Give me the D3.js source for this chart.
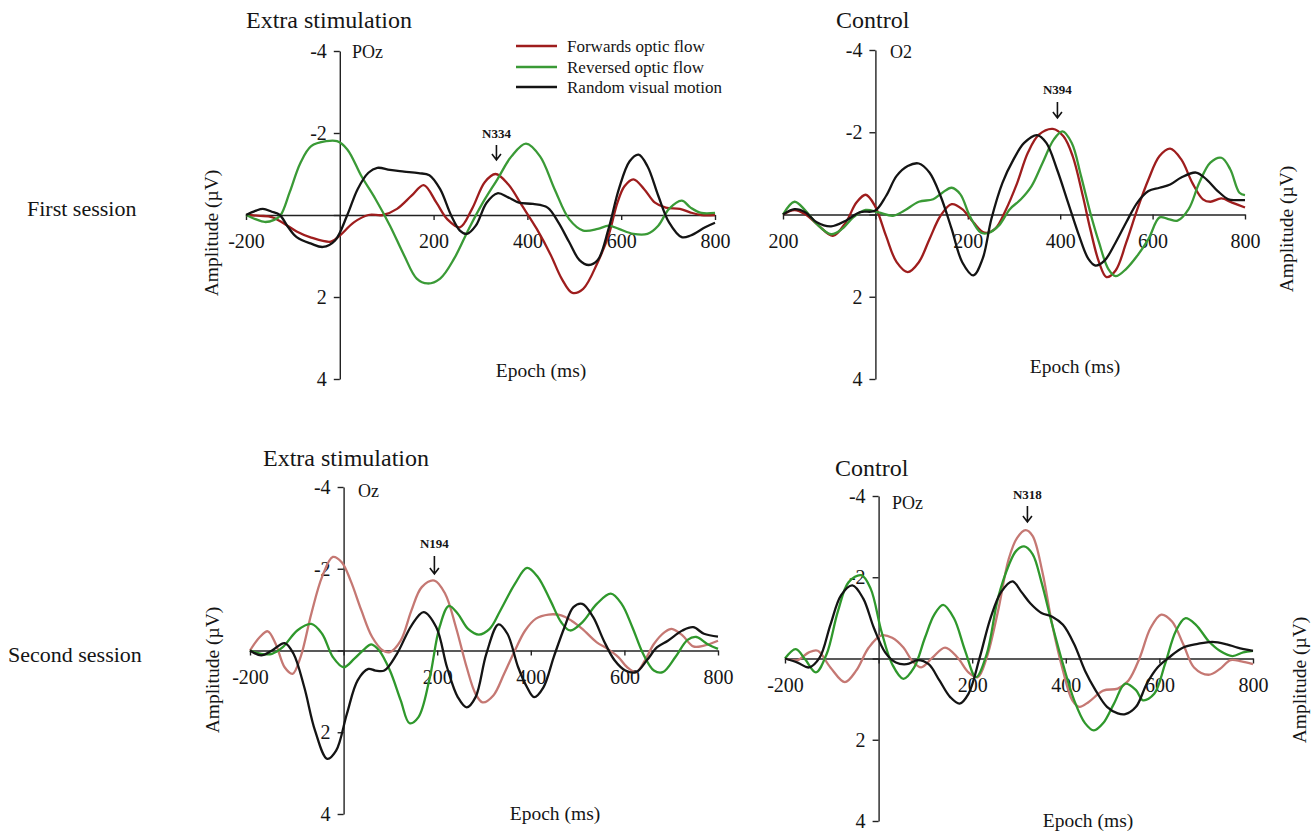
<!DOCTYPE html>
<html>
<head>
<meta charset="utf-8">
<script src="https://cdn.jsdelivr.net/npm/d3@7"></script>
<style>
  body { margin: 0; background: #fff; }
  svg { display: block; }
  text { font-family: "Liberation Serif", Tinos, "Times New Roman", Times, "DejaVu Serif", serif; fill: #151515; }
</style>
</head>
<body>
<svg id="chart" width="1311" height="834"></svg>
<script>
// ---------- data ----------
const seriesNames = ["Forwards optic flow", "Reversed optic flow", "Random visual motion"];
const xTicks = [-200, 0, 200, 400, 600, 800];
const yTicks = [-4, -2, 0, 2, 4];
const xTickLabels = ["-200", "", "200", "400", "600", "800"];
const xTickLabelsO2 = ["200", "", "200", "400", "600", "800"];
const yTickLabels = ["-4", "-2", "", "2", "4"];
const sessionLabels = ["First session", "Second session"];
const conditionTitles = ["Extra stimulation", "Control", "Extra stimulation", "Control"];
const channels = ["POz", "O2", "Oz", "POz"];
const peakLabels = ["N334", "N394", "N194", "N318"];
const peakLatencies = [334, 394, 194, 318];

// First session, extra stimulation, POz  ([ms, µV])
const s1ExtraForward = [[-200,0],[-170,0.02],[-145,0.05],[-120,0.2],[-92,0.4],[-61,0.55],[-19,0.65],[0,0.5],[30,0.18],[61,0.0],[92,0.0],[122,-0.15],[153,-0.47],[179,-0.73],[206,-0.3],[229,0.1],[256,0.3],[282,-0.15],[309,-0.8],[332,-1.0],[359,-0.75],[389,-0.22],[420,0.34],[450,0.98],[473,1.55],[496,1.9],[519,1.8],[550,1.15],[573,0.5],[592,-0.3],[607,-0.7],[626,-0.87],[649,-0.63],[672,-0.3],[695,-0.18],[725,-0.15],[748,-0.06],[771,0.0],[800,0.0]];
const s1ExtraReversed = [[-200,0],[-180,0.1],[-160,0.17],[-140,0.12],[-126,0.0],[-107,-0.55],[-84,-1.27],[-61,-1.68],[-29,-1.8],[-6,-1.8],[16,-1.6],[46,-0.95],[76,-0.39],[107,0.26],[137,0.98],[164,1.55],[187,1.67],[214,1.55],[244,1.06],[275,0.34],[305,-0.3],[336,-0.87],[366,-1.43],[397,-1.74],[427,-1.43],[458,-0.63],[489,0.1],[519,0.38],[550,0.34],[573,0.26],[595,0.34],[626,0.46],[656,0.46],[679,0.26],[702,-0.15],[729,-0.35],[748,-0.18],[771,-0.05],[800,-0.05]];
const s1ExtraRandom = [[-200,0],[-180,-0.1],[-164,-0.15],[-145,-0.08],[-128,0.0],[-110,0.3],[-92,0.54],[-61,0.7],[-36,0.78],[-10,0.62],[16,0.0],[38,-0.63],[61,-1.03],[80,-1.15],[107,-1.1],[137,-1.06],[168,-1.02],[191,-0.97],[214,-0.63],[237,0.0],[256,0.38],[271,0.46],[290,0.26],[313,-0.3],[336,-0.53],[359,-0.43],[382,-0.3],[412,-0.27],[443,-0.18],[466,0.18],[489,0.66],[511,1.1],[531,1.22],[550,1.1],[573,0.34],[595,-0.63],[618,-1.31],[637,-1.47],[656,-1.19],[679,-0.47],[702,0.18],[729,0.54],[748,0.5],[779,0.3],[800,0.19]];

// First session, control, O2
const s1ControlForward = [[-200,0],[-175,-0.11],[-151,0.0],[-123,0.27],[-92,0.52],[-64,0.19],[-41,-0.29],[-21,-0.48],[-1,-0.21],[23,0.52],[46,1.16],[70,1.4],[94,1.16],[117,0.6],[141,0.03],[165,-0.25],[188,-0.13],[212,0.19],[236,0.44],[259,0.35],[283,-0.13],[307,-0.77],[330,-1.5],[354,-1.94],[384,-2.08],[407,-1.9],[427,-1.42],[449,-0.45],[465,0.35],[484,1.16],[500,1.52],[520,1.36],[543,0.68],[567,-0.13],[591,-0.85],[615,-1.42],[638,-1.6],[662,-1.34],[686,-0.77],[709,-0.37],[725,-0.31],[749,-0.39],[772,-0.29],[800,-0.17]];
const s1ControlReversed = [[-200,0],[-175,-0.31],[-151,-0.09],[-127,0.23],[-96,0.48],[-72,0.35],[-48,0.07],[-21,-0.11],[7,-0.05],[38,0.03],[62,-0.09],[94,-0.31],[125,-0.37],[145,-0.53],[165,-0.65],[184,-0.49],[204,0.03],[228,0.44],[244,0.45],[267,0.27],[291,-0.13],[315,-0.37],[338,-0.69],[362,-1.26],[386,-1.82],[405,-2.02],[425,-1.74],[445,-0.94],[465,-0.05],[484,0.68],[504,1.32],[520,1.5],[543,1.32],[567,1.0],[591,0.6],[615,0.07],[634,0.11],[654,0.15],[678,-0.13],[701,-0.77],[725,-1.26],[749,-1.38],[768,-1.1],[788,-0.53],[800,-0.47]];
const s1ControlRandom = [[-200,0],[-175,-0.13],[-151,-0.05],[-127,0.19],[-96,0.29],[-64,0.15],[-33,-0.06],[-1,-0.09],[23,-0.45],[46,-0.94],[70,-1.18],[94,-1.24],[117,-1.02],[141,-0.45],[165,0.35],[188,1.16],[212,1.48],[232,1.08],[251,0.11],[275,-0.77],[299,-1.34],[322,-1.74],[350,-1.93],[370,-1.74],[393,-1.1],[417,-0.29],[441,0.52],[461,1.08],[476,1.24],[496,1.12],[520,0.68],[543,0.19],[567,-0.29],[591,-0.57],[615,-0.65],[638,-0.73],[662,-0.9],[694,-1.02],[717,-0.85],[741,-0.57],[764,-0.37],[780,-0.35],[800,-0.35]];

// Second session, extra stimulation, Oz
const s2ExtraForward = [[-200,0],[-179,-0.33],[-162,-0.47],[-145,-0.16],[-126,0.41],[-109,0.57],[-92,0.16],[-69,-0.9],[-46,-1.8],[-23,-2.29],[-4,-2.16],[15,-1.71],[38,-0.98],[61,-0.33],[84,0.0],[99,0.04],[122,-0.24],[145,-0.98],[167,-1.55],[194,-1.71],[217,-1.39],[240,-0.57],[263,0.41],[282,1.06],[297,1.27],[320,1.1],[343,0.57],[366,0.0],[388,-0.49],[411,-0.78],[438,-0.88],[465,-0.86],[487,-0.73],[510,-0.53],[541,-0.2],[564,-0.04],[587,0.16],[606,0.41],[625,0.53],[644,0.24],[663,-0.16],[686,-0.45],[701,-0.53],[724,-0.37],[747,-0.1],[770,-0.12],[800,-0.24]];
const s2ExtraReversed = [[-200,0],[-176,0.08],[-153,0.08],[-130,-0.08],[-99,-0.49],[-69,-0.65],[-46,-0.41],[-23,0.16],[0,0.41],[23,0.2],[45,-0.04],[59,-0.15],[76,0.0],[99,0.49],[122,1.22],[141,1.78],[160,1.63],[183,0.73],[205,-0.57],[225,-1.09],[244,-0.9],[266,-0.53],[289,-0.39],[312,-0.53],[335,-0.98],[366,-1.63],[392,-2.02],[415,-1.8],[442,-1.22],[465,-0.69],[484,-0.49],[510,-0.69],[541,-1.14],[571,-1.39],[594,-1.14],[617,-0.57],[640,0.08],[663,0.49],[682,0.53],[709,0.16],[735,-0.26],[754,-0.33],[777,-0.16],[800,-0.04]];
const s2ExtraRandom = [[-200,0],[-176,0.12],[-153,0.0],[-126,-0.18],[-107,0.08],[-84,0.9],[-61,1.96],[-35,2.65],[-16,2.45],[7,1.55],[30,0.73],[53,0.45],[68,0.49],[87,0.49],[114,0.08],[145,-0.61],[171,-0.94],[198,-0.57],[221,0.41],[244,1.14],[263,1.39],[282,1.14],[305,0.08],[331,-0.64],[350,-0.41],[373,0.41],[392,0.9],[407,1.14],[427,0.9],[449,0.16],[472,-0.57],[491,-1.06],[510,-1.14],[533,-0.82],[556,-0.24],[579,0.24],[602,0.49],[625,0.53],[648,0.24],[670,-0.08],[693,-0.24],[724,-0.49],[747,-0.57],[770,-0.41],[800,-0.34]];

// Second session, control, POz
const s2ControlForward = [[-200,0],[-173,0.04],[-149,-0.15],[-130,-0.19],[-103,0.22],[-72,0.58],[-48,0.3],[-21,-0.27],[6,-0.57],[29,-0.51],[53,-0.27],[72,0.06],[91,0.22],[115,-0.02],[142,-0.27],[169,-0.02],[192,0.34],[212,0.46],[231,-0.02],[255,-1.16],[278,-2.45],[296,-2.97],[314,-3.16],[329,-3.02],[350,-2.13],[371,-0.83],[394,0.3],[414,1.03],[429,1.19],[449,1.07],[480,0.79],[511,0.74],[534,0.54],[558,-0.02],[581,-0.75],[604,-1.08],[627,-0.91],[651,-0.35],[674,0.22],[705,0.4],[729,0.26],[752,0.04],[775,0.07],[800,0.14]];
const s2ControlReversed = [[-200,0],[-177,-0.23],[-157,0.02],[-134,0.34],[-111,-0.11],[-87,-1.16],[-64,-1.88],[-37,-2.05],[-17,-1.72],[6,-0.67],[29,0.14],[53,0.5],[76,0.22],[99,-0.51],[119,-1.08],[138,-1.32],[161,-0.99],[185,-0.19],[208,0.46],[231,-0.11],[255,-1.48],[278,-2.29],[294,-2.65],[311,-2.76],[329,-2.57],[348,-1.88],[371,-0.83],[394,0.14],[418,1.03],[441,1.59],[460,1.77],[480,1.59],[503,1.11],[527,0.62],[550,0.78],[565,1.03],[589,0.87],[612,0.14],[635,-0.67],[655,-0.99],[678,-0.83],[705,-0.43],[729,-0.19],[756,-0.06],[779,-0.15],[800,-0.19]];
const s2ControlRandom = [[-200,0],[-173,0.1],[-149,0.22],[-126,-0.02],[-103,-0.83],[-80,-1.56],[-56,-1.8],[-33,-1.48],[-10,-0.75],[14,-0.15],[37,0.1],[60,0.14],[84,0.04],[107,0.14],[130,0.54],[153,0.95],[173,1.11],[192,0.87],[216,-0.02],[239,-0.99],[262,-1.64],[286,-1.9],[305,-1.64],[324,-1.36],[348,-1.12],[371,-1.03],[394,-0.83],[418,-0.35],[441,0.3],[464,0.79],[488,1.19],[511,1.35],[527,1.37],[550,1.19],[573,0.62],[596,0.22],[620,-0.02],[651,-0.27],[682,-0.36],[713,-0.41],[744,-0.35],[767,-0.27],[800,-0.19]];

// ---------- layout ----------
const FONT = '"Liberation Serif", Tinos, "Times New Roman", Times, "DejaVu Serif", serif';
const panels = [
  { series: [s1ExtraForward, s1ExtraReversed, s1ExtraRandom],
    x0: 246, x1: 715, yTop: 51, yBot: 379, xLabels: xTickLabels,
    title: [246, 28], chan: [352, 58], epoch: [541, 377], amp: [211, 233],
    peak: [138, 145, 160], colors: ["#9e1d1d", "#3a9a36", "#141414"] },
  { series: [s1ControlForward, s1ControlReversed, s1ControlRandom],
    x0: 783, x1: 1245, yTop: 50, yBot: 379, xLabels: xTickLabelsO2,
    title: [836, 28], chan: [890, 58], epoch: [1075, 373], amp: [1286, 229],
    peak: [94, 102, 118], colors: ["#9e1d1d", "#3a9a36", "#141414"] },
  { series: [s2ExtraForward, s2ExtraReversed, s2ExtraRandom],
    x0: 250, x1: 718, yTop: 487, yBot: 814, xLabels: xTickLabels,
    title: [263, 466], chan: [358, 497], epoch: [555, 820], amp: [212, 670],
    peak: [548, 556, 574], colors: ["#c57873", "#2f982c", "#141414"] },
  { series: [s2ControlForward, s2ControlReversed, s2ControlRandom],
    x0: 785, x1: 1253, yTop: 496, yBot: 821, xLabels: xTickLabels,
    title: [835, 476], chan: [892, 509], epoch: [1088, 827], amp: [1299, 680],
    peak: [499, 506, 522], colors: ["#c57873", "#2f982c", "#141414"] }
];

const svg = d3.select("#chart");

// session row labels
svg.append("text").attr("x", 27).attr("y", 216).attr("font-size", 22).attr("font-family", FONT).text(sessionLabels[0]);
svg.append("text").attr("x", 8).attr("y", 662).attr("font-size", 22).attr("font-family", FONT).text(sessionLabels[1]);

panels.forEach((p, i) => {
  const x = d3.scaleLinear().domain([-200, 800]).range([p.x0, p.x1]);
  const y = d3.scaleLinear().domain([-4, 4]).range([p.yTop, p.yBot]);
  const g = svg.append("g");

  // horizontal axis through zero
  const xAxis = d3.axisBottom(x).tickValues(xTicks).tickSize(5).tickSizeOuter(0)
    .tickFormat((d, k) => p.xLabels[k]);
  const gx = g.append("g").attr("transform", `translate(0,${y(0)})`).call(xAxis);
  gx.attr("font-family", FONT);
  gx.selectAll("text").attr("font-size", 20).attr("y", 19).attr("fill", "#151515");

  // vertical axis through 0 ms
  const yAxis = d3.axisLeft(y).tickValues(yTicks).tickSize(6).tickSizeOuter(0)
    .tickPadding(7).tickFormat((d, k) => yTickLabels[k]);
  const gy = g.append("g").attr("transform", `translate(${x(0)},0)`).call(yAxis);
  gy.attr("font-family", FONT);
  gy.selectAll("text").attr("font-size", 20).attr("fill", "#151515");

  g.selectAll(".domain, .tick line").attr("stroke", "#222").attr("stroke-width", 1.4);

  // waveforms
  const line = d3.line().x(d => x(d[0])).y(d => y(d[1])).curve(d3.curveCatmullRom.alpha(0.5));
  p.series.forEach((s, k) => {
    g.append("path").datum(s).attr("d", line)
      .attr("fill", "none").attr("stroke", p.colors[k])
      .attr("stroke-width", 2.3).attr("stroke-linejoin", "round");
  });

  // panel texts
  g.append("text").attr("x", p.title[0]).attr("y", p.title[1]).attr("font-size", 24).attr("font-family", FONT).text(conditionTitles[i]);
  g.append("text").attr("x", p.chan[0]).attr("y", p.chan[1]).attr("font-size", 18).attr("font-family", FONT).text(channels[i]);
  g.append("text").attr("x", p.epoch[0]).attr("y", p.epoch[1]).attr("font-size", 19.5).attr("font-family", FONT)
    .attr("text-anchor", "middle").text("Epoch (ms)");
  g.append("text").attr("transform", `translate(${p.amp[0]},${p.amp[1]}) rotate(-90)`)
    .attr("font-size", 19.5).attr("font-family", FONT).attr("text-anchor", "middle").attr("dominant-baseline", "central")
    .text("Amplitude (\u00b5V)");

  // peak marker
  const px = x(peakLatencies[i]);
  g.append("text").attr("x", px).attr("y", p.peak[0]).attr("font-size", 13).attr("font-family", FONT)
    .attr("font-weight", "bold").attr("text-anchor", "middle").text(peakLabels[i]);
  g.append("path")
    .attr("d", `M${px},${p.peak[1]}V${p.peak[2]}M${px - 4.5},${p.peak[2] - 6}L${px},${p.peak[2]}L${px + 4.5},${p.peak[2] - 6}`)
    .attr("fill", "none").attr("stroke", "#111").attr("stroke-width", 1.6);
});

// legend
const legendColors = ["#9e1d1d", "#3a9a36", "#141414"];
const legendRows = [46, 67, 87];
const lg = svg.append("g").attr("font-family", FONT);
seriesNames.forEach((name, k) => {
  lg.append("line").attr("x1", 516).attr("x2", 557).attr("y1", legendRows[k]).attr("y2", legendRows[k])
    .attr("stroke", legendColors[k]).attr("stroke-width", 2.3);
  lg.append("text").attr("x", 567).attr("y", legendRows[k]).attr("dy", "0.35em")
    .attr("font-size", 17).text(name);
});
</script>
</body>
</html>
